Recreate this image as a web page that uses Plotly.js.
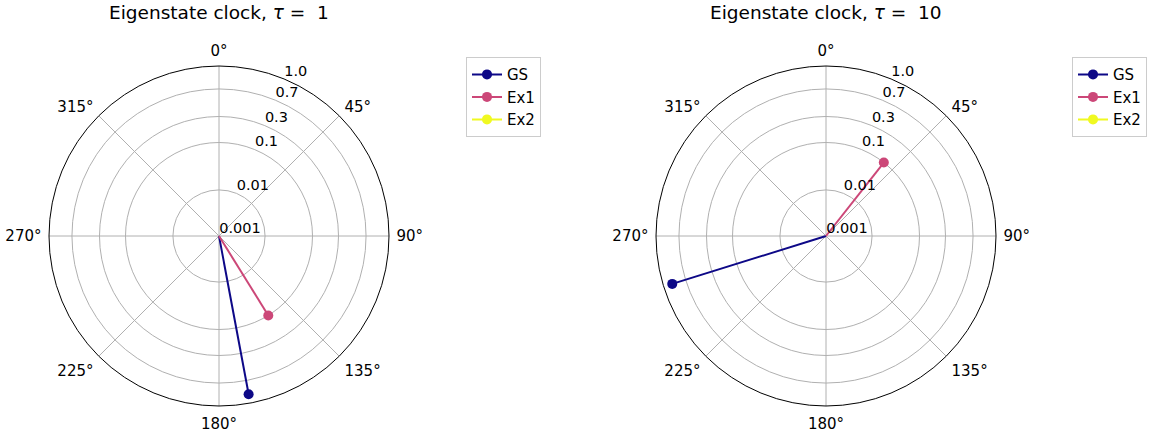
<!DOCTYPE html>
<html>
<head>
<meta charset="utf-8">
<script src="https://cdn.plot.ly/plotly-3.0.1.min.js"></script>
<style>
  html, body { margin: 0; padding: 0; background: white; }
  #chart { width: 1164px; height: 443px; }
</style>
</head>
<body>
<div id="chart"></div>
<script>
// ---- data ----
const seriesNames = ['GS', 'Ex1', 'Ex2'];
const panelTaus = ['1', '10'];
// phase angles (degrees, clockwise from top) per series
const tau1Angles = [169.4, 148.2, 0];
const tau10Angles = [252.7, 38.2, 0];
// magnitudes per series (Ex2 is zero -> not drawn)
const tau1Values = [0.87, 0.10, 0];
const tau10Values = [0.87, 0.10, 0];
// radial axis ticks
const radialTickValues = [0.001, 0.01, 0.1, 0.3, 0.7, 1.0];
const radialTickLabels = ['0.001', '0.01', '0.1', '0.3', '0.7', '1.0'];
const angularTickValues = [0, 45, 90, 135, 180, 225, 270, 315];
const angularTickLabels = ['0°', '45°', '90°', '135°', '180°', '225°', '270°', '315°'];

// ---- styling / scale ----
const seriesColors = ['#0d0887', '#cc4778', '#f0f921'];
// relative radius of each radial tick (the custom radial scale of the original)
const radialTickFractions = [0, 0.271, 0.55, 0.703, 0.865, 1.0];

function radialScale(v) {
  if (!(v >= radialTickValues[0])) return null;
  const lv = Math.log10(v);
  for (let i = 0; i < radialTickValues.length - 1; i++) {
    const a = Math.log10(radialTickValues[i]), b = Math.log10(radialTickValues[i + 1]);
    if (lv <= b) {
      const t = (lv - a) / (b - a);
      return radialTickFractions[i] + t * (radialTickFractions[i + 1] - radialTickFractions[i]);
    }
  }
  return 1;
}

const W = 1164, H = 443;
const FONT = 'DejaVu Sans, Liberation Sans, sans-serif';
const panels = [
  { angles: tau1Angles, values: tau1Values, subplot: 'polar', labels: 'polar3', legend: 'legend', x0: 49 },
  { angles: tau10Angles, values: tau10Values, subplot: 'polar2', labels: 'polar4', legend: 'legend2', x0: 656 }
];
const SIZE = 340, Y0 = 66;          // polar square (px)
const LABEL_DX = -7, LABEL_DY = -13.5; // radial label layer offset (px)

const traces = [];
panels.forEach(p => {
  seriesNames.forEach((name, i) => {
    const rEnd = radialScale(p.values[i]);
    traces.push({
      type: 'scatterpolar',
      subplot: p.subplot,
      legend: p.legend,
      name: name,
      mode: 'lines+markers',
      r: [rEnd, 0],
      theta: [p.angles[i], p.angles[i]],
      line: { color: seriesColors[i], width: 2 },
      marker: { color: [seriesColors[i], 'rgba(0,0,0,0)'], size: 10, line: { width: 0 } },
      hoverinfo: 'skip'
    });
  });
  // empty trace so the label-only overlay subplot is rendered
  traces.push({
    type: 'scatterpolar', subplot: p.labels, r: [], theta: [],
    mode: 'markers', showlegend: false, hoverinfo: 'skip'
  });
});

function domainFor(x0, dx, dy) {
  return {
    x: [(x0 + dx) / W, (x0 + SIZE + dx) / W],
    y: [(H - (Y0 + SIZE + dy)) / H, (H - (Y0 + dy)) / H]
  };
}

function polarLayout(x0) {
  return {
    domain: domainFor(x0, 0, 0),
    bgcolor: 'white',
    angularaxis: {
      direction: 'clockwise',
      rotation: 90,
      tickmode: 'array',
      tickvals: angularTickValues,
      ticktext: angularTickLabels,
      showline: true,
      linecolor: 'black',
      linewidth: 1,
      showgrid: true,
      gridcolor: '#b0b0b0',
      gridwidth: 1,
      ticks: 'outside',
      ticklen: 4,
      tickcolor: 'rgba(0,0,0,0)',
      tickfont: { size: 15, color: 'black', family: FONT }
    },
    radialaxis: {
      range: [0, 1],
      tickmode: 'array',
      tickvals: radialTickFractions,
      ticktext: radialTickLabels,
      showticklabels: false,
      showline: false,
      ticks: '',
      showgrid: true,
      gridcolor: '#b0b0b0',
      gridwidth: 1,
      angle: 67.5
    }
  };
}

function labelLayout(x0) {
  return {
    domain: domainFor(x0, LABEL_DX, LABEL_DY),
    bgcolor: 'rgba(0,0,0,0)',
    angularaxis: { visible: false, direction: 'clockwise', rotation: 90 },
    radialaxis: {
      range: [0, 1],
      tickmode: 'array',
      tickvals: radialTickFractions,
      ticktext: radialTickLabels,
      showline: false,
      showgrid: false,
      ticks: '',
      angle: 67.5,
      tickangle: 67.5,
      side: 'clockwise',
      tickfont: { size: 14.5, color: 'black', family: FONT }
    }
  };
}

const legendBase = {
  xanchor: 'left', yanchor: 'top', y: 0.871,
  bgcolor: 'white', bordercolor: '#cccccc', borderwidth: 1,
  font: { size: 15, color: 'black', family: FONT }
};

const layout = {
  width: W, height: H,
  margin: { l: 0, r: 0, t: 0, b: 0 },
  paper_bgcolor: 'white',
  font: { family: FONT, color: 'black', size: 14 },
  showlegend: true,
  polar: polarLayout(panels[0].x0),
  polar2: polarLayout(panels[1].x0),
  polar3: labelLayout(panels[0].x0),
  polar4: labelLayout(panels[1].x0),
  legend: Object.assign({}, legendBase, { x: 466 / W }),
  legend2: Object.assign({}, legendBase, { x: 1072 / W }),
  annotations: panelTaus.map((tau, k) => ({
    xref: 'paper', yref: 'paper',
    x: (panels[k].x0 + SIZE / 2) / W,
    y: 1 - 12 / H,
    xanchor: 'center', yanchor: 'middle',
    showarrow: false,
    text: 'Eigenstate clock, <i>τ</i> =\u00a0 ' + tau,
    font: { size: 18.5, color: 'black', family: FONT }
  }))
};

Plotly.newPlot('chart', traces, layout, { displayModeBar: false, staticPlot: true });
</script>
</body>
</html>
